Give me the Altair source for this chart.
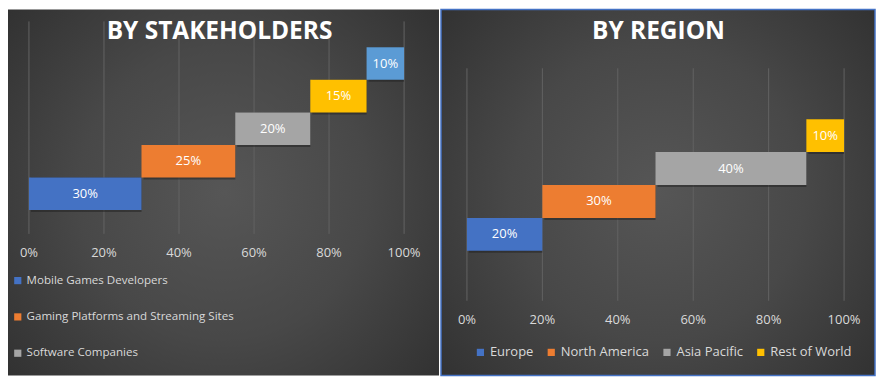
import altair as alt
import pandas as pd

# ---------------- data ----------------
stake_names = ["Mobile Games Developers", "Gaming Platforms and Streaming Sites",
               "Software Companies", "Segment 4", "Segment 5"]
stake_values = [30, 25, 20, 15, 10]
stake_colors = ["#4472C4", "#ED7D31", "#A5A5A5", "#FFC000", "#5B9BD5"]

region_names = ["Europe", "North America", "Asia Pacific", "Rest of World"]
region_values = [20, 30, 40, 10]
region_colors = ["#4472C4", "#ED7D31", "#A5A5A5", "#FFC000"]

tick_values = [0, 0.2, 0.4, 0.6, 0.8, 1.0]
tick_labels = ["0%", "20%", "40%", "60%", "80%", "100%"]

FONT = "Open Sans"
H = 367


def waterfall_df(names, values):
    rows = []
    start = 0
    for i, (n, v) in enumerate(zip(names, values)):
        rows.append({"name": n, "start": start / 100, "end": (start + v) / 100,
                     "mid": (start + v / 2) / 100, "row": i, "row2": i + 1,
                     "rowmid": i + 0.5, "label": f"{v}%"})
        start += v
    return pd.DataFrame(rows)


def panel(title, names, values, colors, width, xrange, grid_y, yrange, title_xy,
          label_y, legend, border=None):
    df = waterfall_df(names, values)
    xs = alt.Scale(domain=[0, 1], range=xrange)
    ys = alt.Scale(domain=[0, len(names)], range=yrange)
    ticks = pd.DataFrame({"t": tick_values, "lab": tick_labels})

    grad = {"gradient": "radial",
            "stops": [{"offset": 0, "color": "#565656"},
                      {"offset": 0.45, "color": "#484848"},
                      {"offset": 1, "color": "#2b2b2b"}],
            "x1": 0.5, "y1": 0.5, "r1": 0, "x2": 0.5, "y2": 0.5, "r2": 0.75}
    bg_kwargs = dict(fill=grad)
    if border:
        bg_kwargs.update(stroke=border, strokeWidth=1.5)
    bg = alt.Chart(pd.DataFrame({"a": [0]})).mark_rect(**bg_kwargs).encode(
        x=alt.value(0), x2=alt.value("width"), y=alt.value(0), y2=alt.value("height"))

    grid = alt.Chart(ticks).mark_rule(color="#626262", strokeWidth=1).encode(
        x=alt.X("t:Q", scale=xs, axis=None),
        y=alt.value(grid_y[0]), y2=alt.value(grid_y[1]))

    xlab = alt.Chart(ticks).mark_text(font=FONT, fontSize=13, color="#D9D9D9",
                                      baseline="middle", align="center").encode(
        x=alt.X("t:Q", scale=xs, axis=None), y=alt.value(label_y), text="lab:N")

    shadow = alt.Chart(df).mark_rect(color="#1a1a1a", opacity=0.45,
                                     xOffset=2, yOffset=2).encode(
        x=alt.X("start:Q", scale=xs, axis=None), x2="end:Q",
        y=alt.Y("row:Q", scale=ys, axis=None), y2="row2:Q")

    bars = alt.Chart(df).mark_rect().encode(
        x=alt.X("start:Q", scale=xs, axis=None), x2="end:Q",
        y=alt.Y("row:Q", scale=ys, axis=None), y2="row2:Q",
        color=alt.Color("name:N", scale=alt.Scale(domain=names, range=colors),
                        legend=legend))

    blabels = alt.Chart(df).mark_text(font=FONT, fontSize=13, color="white",
                                      baseline="middle", align="center").encode(
        x=alt.X("mid:Q", scale=xs, axis=None),
        y=alt.Y("rowmid:Q", scale=ys, axis=None), text="label:N")

    ttl = alt.Chart(pd.DataFrame({"t": [title]})).mark_text(
        font=FONT, fontSize=24.5, fontWeight="bold", color="white",
        baseline="middle", align="center").encode(
        x=alt.value(title_xy[0]), y=alt.value(title_xy[1]), text="t:N")

    return alt.layer(bg, grid, xlab, shadow, bars, blabels, ttl).properties(
        width=width, height=H)


legend_left = alt.Legend(
    title=None, orient="none", legendX=4, legendY=266, direction="vertical",
    values=stake_names[:3], symbolType="square", symbolSize=52,
    symbolStrokeWidth=0, labelFont=FONT, labelFontSize=11.6, labelColor="#D9D9D9",
    labelOffset=3, rowPadding=23.4, padding=0, labelLimit=400)

legend_right = alt.Legend(
    title=None, orient="none", legendX=33, legendY=337, direction="horizontal",
    columns=4, symbolType="square", symbolSize=52, symbolStrokeWidth=0,
    labelFont=FONT, labelFontSize=13, labelColor="#D9D9D9",
    labelOffset=3, columnPadding=11, padding=0, labelLimit=400)

left = panel("BY STAKEHOLDERS", stake_names, stake_values, stake_colors, 432,
             [21, 397], (12, 225), [201, 38], (212, 23), 244, legend_left)
right = panel("BY REGION", region_names, region_values, region_colors, 435,
              [26, 404], (59, 292), [242, 110], (218, 23), 311, legend_right,
              border="#4472C4")

chart = alt.hconcat(left, right, spacing=1).resolve_scale(
    color="independent", x="independent", y="independent"
).properties(padding=0).configure_view(stroke=None)

chart.save("out.html", embed_options={"renderer": "svg", "actions": False})
